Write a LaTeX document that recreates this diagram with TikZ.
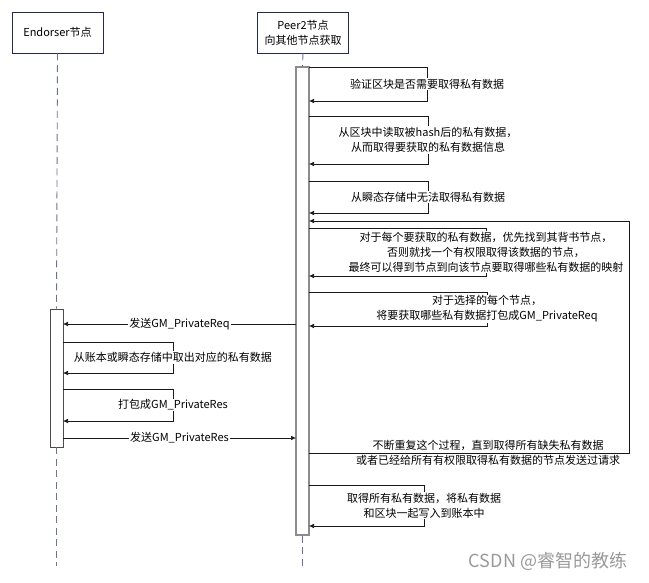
\documentclass[tikz,border=0pt]{standalone}
\usepackage{fontspec}
\setmainfont{Noto Sans CJK SC}
\usetikzlibrary{arrows.meta,positioning}

\definecolor{headnavy}{HTML}{26294F}
\definecolor{lifegray}{HTML}{6B7394}
\definecolor{boxgray}{HTML}{8C8C8C}

\def\peerright{309}
\def\endright{63}

\begin{document}
\begin{tikzpicture}[x=1pt,y=-1pt,>={Latex[length=5pt,width=4.5pt]},font=\fontsize{11}{15}\selectfont]
	\tikzstyle{actor}=[draw=headnavy,line width=0.8pt,fill=white,minimum width=91pt,minimum height=41pt,align=center,inner sep=2pt]
	\tikzstyle{lifeline}=[draw=lifegray,line width=0.9pt,dash pattern=on 7pt off 4.5pt]
	\tikzstyle{activation}=[fill=white,minimum width=13pt,inner sep=0pt]
	\tikzstyle{msg}=[->,line width=0.6pt,draw=black!90]
	\tikzstyle{lbl}=[fill=white,inner sep=1pt,align=center]

	\useasboundingbox (0,0) rectangle (649,582);

	% Draw the two participants
	\node[actor] (E) at (57.5,32.5) {Endorser节点};
	\node[actor] (P) at (303,32.5) {Peer2节点\\向其他节点获取};

	% Activation bars
	\node[activation,draw=boxgray,line width=1.5pt,minimum height=468pt] (PA) at (302.5,301) {};
	\node[activation,draw=black!70,line width=0.7pt,minimum height=138pt] (EA) at (56.5,378) {};

	% Lifelines
	\coordinate (E-end) at (56.5,566);
	\coordinate (P-end) at (302.5,567);
	\draw[lifeline] (E.south) -- (EA.north);
	\draw[lifeline] (EA.south) -- (E-end);
	\draw[lifeline] (P.south) -- (PA.north);
	\draw[lifeline] (PA.south) -- (P-end);

	% Self messages of the peer
	\foreach \name/\ytop/\ybot/\dx/\txt in {
		s1/67/101/118/{验证区块是否需要取得私有数据},
		s2/116/164/119/{从区块中读取被hash后的私有数据，\\从而取得要获取的私有数据信息},
		s3/181/213/119/{从瞬态存储中无法取得私有数据},
		s4/228/276/177/{对于每个要获取的私有数据，优先找到其背书节点，\\否则就找一个有权限取得该数据的节点，\\最终可以得到节点到向该节点要取得哪些私有数据的映射},
		s5/292/326/178/{对于选择的每个节点，\\将要获取哪些私有数据打包成GM\_PrivateReq},
		s6/485/526/115/{取得所有私有数据，将私有数据\\和区块一起写入到账本中}}
	{
		\coordinate (\name-a) at (\peerright,\ytop);
		\coordinate (\name-b) at (\peerright,\ybot);
		\draw[msg] (\name-a) -- ++(\dx,0) |- node[lbl,pos=0.25] {\txt} (\name-b);
	}

	% Repeat until everything is fetched
	\coordinate (loop-a) at (\peerright,453);
	\coordinate (loop-b) at (\peerright,221);
	\draw[msg] (loop-a) -- node[pos=0.56,align=center] {不断重复这个过程，直到取得所有缺失私有数据\\或者已经给所有有权限取得私有数据的节点发送过请求} ++(320,0) |- (loop-b);

	% Request to the endorser
	\coordinate (req-p) at (296,324);
	\coordinate (req-e) at (\endright,324);
	\draw[msg] (req-p) -- node[lbl] {发送GM\_PrivateReq} (req-e);

	% Self messages of the endorser
	\foreach \name/\ytop/\ybot/\txt in {
		e1/342/373/{从账本或瞬态存储中取出对应的私有数据},
		e2/389/421/{打包成GM\_PrivateRes}}
	{
		\coordinate (\name-a) at (\endright,\ytop);
		\coordinate (\name-b) at (\endright,\ybot);
		\draw[msg] (\name-a) -- ++(110,0) |- node[lbl,pos=0.25] {\txt} (\name-b);
	}

	% Response back to the peer
	\coordinate (res-e) at (\endright,438);
	\coordinate (res-p) at (296,438);
	\draw[msg] (res-e) -- node[lbl] {发送GM\_PrivateRes} (res-p);

	\node[text=black!40,font=\fontsize{18}{20}\selectfont] (mark) at (548,561) {CSDN @睿智的教练};
\end{tikzpicture}
\end{document}
